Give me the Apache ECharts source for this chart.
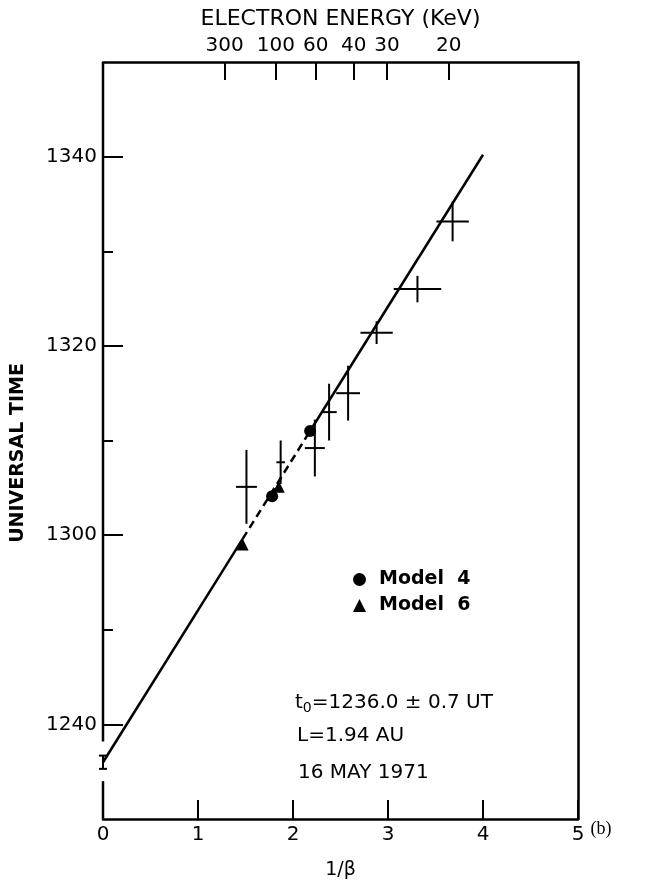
<!DOCTYPE html>
<html><head><meta charset="utf-8">
<script src="https://cdn.jsdelivr.net/npm/echarts@6/dist/echarts.min.js"></script>
<style>html,body{margin:0;padding:0;background:#fff}#c{width:655px;height:885px}</style>
</head><body><div id="c"></div>
<script>
// y values: minutes after 12:00 UT
const xTicks = [0, 1, 2, 3, 4, 5];
const yMajorTicks = [40, 60, 80, 100];
const yMajorLabels = ['1240', '1300', '1320', '1340'];
const yMinorTicks = [50, 70, 90];
const energyLabels = ['300', '100', '60', '40', '30', '20'];
const energyPositions = [1.28, 1.82, 2.24, 2.64, 2.99, 3.64];
const model4 = [[1.78, 64.1], [2.18, 71.0]];
const model6 = [[1.47, 59.0], [1.85, 65.1]];
// observations: [1/beta, time, xErr, yErr]
const observations = [
  [1.51, 65.1, 0.11, 3.9],
  [1.87, 67.7, 0.045, 2.3],
  [2.23, 69.2, 0.105, 3.0],
  [2.38, 73.0, 0.08, 3.0],
  [2.58, 75.0, 0.125, 2.9],
  [2.88, 81.4, 0.17, 1.2],
  [3.31, 86.0, 0.25, 1.4],
  [3.68, 93.15, 0.17, 2.1]
];
const fitSolidLow = [[0, 36.0], [1.47, 59.6]];
const fitDashed = [[1.47, 59.6], [2.18, 71.0]];
const fitSolidHigh = [[2.18, 71.0], [4.0, 100.2]];
const t0Point = [[0, 36.0, 0.7]];
const leftAxisLow = [[0, 30], [0, 34.0]];
const leftAxisHigh = [[0, 38.2], [0, 110]];

const FONT = 'DejaVu Sans';
const chart = echarts.init(document.getElementById('c'), null, {renderer: 'canvas'});

function nearestLabel(v, positions, labels) {
  let best = 0;
  for (let i = 1; i < positions.length; i++) {
    if (Math.abs(positions[i] - v) < Math.abs(positions[best] - v)) best = i;
  }
  return labels[best];
}

const axisLineStyle = {color: '#000', width: 2.5};

const option = {
  animation: false,
  backgroundColor: '#fff',
  grid: {left: 103, right: 77, top: 62, bottom: 65, containLabel: false},
  xAxis: [
    {
      type: 'value', position: 'bottom', min: 0, max: 5, interval: 1,
      axisLine: {show: true, onZero: false, lineStyle: axisLineStyle},
      axisTick: {show: true, inside: true, length: 19, lineStyle: {color: '#000', width: 2}},
      axisLabel: {color: '#000', fontFamily: FONT, fontSize: 20, margin: 6},
      splitLine: {show: false},
      name: '1/β', nameLocation: 'middle', nameGap: 42,
      nameTextStyle: {color: '#000', fontFamily: FONT, fontSize: 19}
    },
    {
      type: 'value', position: 'top', min: 0, max: 5,
      axisLine: {show: true, onZero: false, lineStyle: axisLineStyle},
      axisTick: {show: true, inside: true, length: 18, customValues: energyPositions, lineStyle: {color: '#000', width: 2}},
      axisLabel: {color: '#000', fontFamily: FONT, fontSize: 20, margin: 6, customValues: energyPositions,
        formatter: v => nearestLabel(v, energyPositions, energyLabels)},
      splitLine: {show: false},
      name: 'ELECTRON ENERGY (KeV)', nameLocation: 'middle', nameGap: 32,
      nameTextStyle: {color: '#000', fontFamily: FONT, fontSize: 22}
    }
  ],
  yAxis: [
    {
      type: 'value', position: 'left', min: 30, max: 110,
      axisLine: {show: false},
      axisTick: {show: true, inside: true, length: 20, customValues: yMajorTicks, lineStyle: {color: '#000', width: 2}},
      axisLabel: {color: '#000', fontFamily: FONT, fontSize: 20, margin: 6, customValues: yMajorTicks,
        formatter: v => nearestLabel(v, yMajorTicks, yMajorLabels)},
      splitLine: {show: false}
    },
    {
      type: 'value', position: 'left', min: 30, max: 110,
      axisLine: {show: false},
      axisTick: {show: true, inside: true, length: 10, customValues: yMinorTicks, lineStyle: {color: '#000', width: 2}},
      axisLabel: {show: false},
      splitLine: {show: false}
    },
    {
      type: 'value', position: 'right', min: 30, max: 110,
      axisLine: {show: true, onZero: false, lineStyle: axisLineStyle},
      axisTick: {show: false}, axisLabel: {show: false}, splitLine: {show: false}
    }
  ],
  legend: {
    orient: 'vertical', left: 348, top: 565, itemWidth: 13, itemHeight: 13, itemGap: 7,
    selectedMode: false,
    data: [{name: 'Model 4', icon: 'circle'}, {name: 'Model 6', icon: 'triangle'}],
    formatter: name => name.replace(' ', '  '),
    itemStyle: {color: '#000', opacity: 1},
    textStyle: {color: '#000', fontFamily: FONT, fontSize: 19, fontWeight: 'bold', padding: [0, 0, 0, 8]}
  },
  graphic: [
    {type: 'text', x: 18.5, y: 453, rotation: Math.PI / 2,
      style: {text: 'UNIVERSAL TIME', fill: '#000', font: 'bold 19px "DejaVu Sans"', align: 'center', verticalAlign: 'middle'}},
    {type: 'text', x: 295, y: 703,
      style: {text: '{n|t}{s|0}{n|=1236.0 ± 0.7 UT}', verticalAlign: 'middle',
        rich: {n: {fill: '#000', fontFamily: FONT, fontSize: 20}, s: {fill: '#000', fontFamily: FONT, fontSize: 14, padding: [10, 0, 0, 0]}}}},
    {type: 'text', x: 297, y: 736,
      style: {text: 'L=1.94 AU', fill: '#000', fontFamily: FONT, fontSize: 20, verticalAlign: 'middle'}},
    {type: 'text', x: 298, y: 773,
      style: {text: '16 MAY 1971', fill: '#000', fontFamily: FONT, fontSize: 20, verticalAlign: 'middle'}},
    {type: 'text', x: 601, y: 829,
      style: {text: '(b)', fill: '#000', fontFamily: 'Liberation Serif', fontSize: 18, align: 'center', verticalAlign: 'middle'}}
  ],
  series: [
    {type: 'line', data: leftAxisLow, symbol: 'none', clip: false, silent: true,
      lineStyle: {color: '#000', width: 2.5}},
    {type: 'line', data: leftAxisHigh, symbol: 'none', clip: false, silent: true,
      lineStyle: {color: '#000', width: 2.5}},
    {type: 'line', data: fitSolidLow, symbol: 'none', lineStyle: {color: '#000', width: 2.5}},
    {type: 'line', data: fitDashed, symbol: 'none', lineStyle: {color: '#000', width: 2.5, type: [8, 5]}},
    {type: 'line', data: fitSolidHigh, symbol: 'none', lineStyle: {color: '#000', width: 2.5}},
    {
      type: 'custom', data: observations, encode: {x: 0, y: 1}, clip: false,
      renderItem: function (params, api) {
        const x = api.value(0), y = api.value(1), dx = api.value(2), dy = api.value(3);
        const l = api.coord([x - dx, y]), r = api.coord([x + dx, y]);
        const t = api.coord([x, y + dy]), b = api.coord([x, y - dy]);
        const st = {stroke: '#000', lineWidth: 2};
        return {type: 'group', children: [
          {type: 'line', shape: {x1: l[0], y1: l[1], x2: r[0], y2: r[1]}, style: st},
          {type: 'line', shape: {x1: t[0], y1: t[1], x2: b[0], y2: b[1]}, style: st}
        ]};
      }
    },
    {
      type: 'custom', data: t0Point, encode: {x: 0, y: 1}, clip: false,
      renderItem: function (params, api) {
        const x = api.value(0), y = api.value(1), e = api.value(2);
        const t = api.coord([x, y + e]), b = api.coord([x, y - e]);
        const st = {stroke: '#000', lineWidth: 2};
        return {type: 'group', children: [
          {type: 'line', shape: {x1: t[0], y1: t[1], x2: b[0], y2: b[1]}, style: st},
          {type: 'line', shape: {x1: t[0] - 4, y1: t[1], x2: t[0] + 4, y2: t[1]}, style: st},
          {type: 'line', shape: {x1: b[0] - 4, y1: b[1], x2: b[0] + 4, y2: b[1]}, style: st}
        ]};
      }
    },
    {name: 'Model 4', type: 'scatter', data: model4, symbol: 'circle', symbolSize: 12,
      itemStyle: {color: '#000', opacity: 1}},
    {name: 'Model 6', type: 'scatter', data: model6, symbol: 'triangle', symbolSize: 12,
      itemStyle: {color: '#000', opacity: 1}}
  ]
};
chart.setOption(option);
</script>
</body></html>
